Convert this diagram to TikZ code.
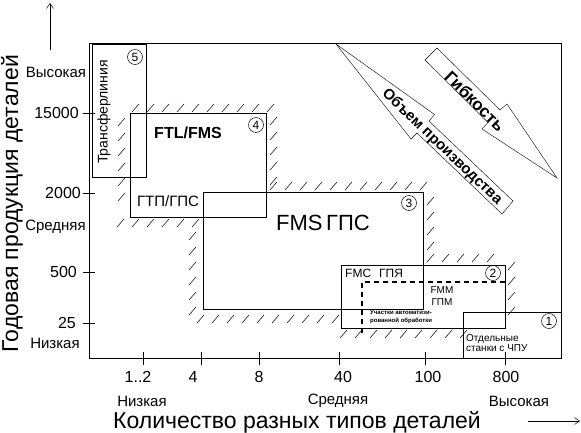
\documentclass[tikz,border=0pt]{standalone}
\usepackage{fontspec}
\setmainfont{Liberation Sans}
\usetikzlibrary{arrows.meta}
\newcommand{\fsz}[1]{\fontsize{#1bp}{#1bp}\selectfont}
\tikzset{frame/.style = {line width=0.8pt}}
\tikzset{zone/.style = {line width=0.8pt}}
\tikzset{hatch/.style = {line width=0.5pt}}
\tikzset{bigarrow/.style = {line width=0.4pt}}
\tikzset{axisarrow/.style = {line width=0.5pt, -{Straight Barb[length=5bp,width=7bp]}}}
\tikzset{dashline/.style = {line width=1.2pt, dash pattern=on 5bp off 4bp}}
\tikzset{word/.style = {inner sep=0pt, font=\fsz{15}}}
\tikzset{num/.style = {inner sep=0pt, font=\fsz{16}}}
\tikzset{title/.style = {inner sep=0pt, font=\fsz{23}}}
\tikzset{zonenum/.style = {draw, circle, line width=0.5pt, minimum size=15bp, inner sep=0pt, font=\fsz{12}}}
\newcommand{\hatchrow}[3]{\foreach \k in {1,...,#3}{\draw[hatch] ({#1+15*(\k-1)},#2) -- ++(7,-8);}}
\newcommand{\hatchcol}[3]{\foreach \k in {1,...,#3}{\draw[hatch] (#1,{#2+15*(\k-1)}) -- ++(7,-8);}}

\begin{document}
\begin{tikzpicture}[x=1bp, y=-1bp]
\useasboundingbox (0,0) rectangle (581,432);
% frame and ticks
\draw[frame] (89,43) rectangle (561,358);
\foreach \ty in {113,193,272,323} \draw[frame] (83,\ty) -- (95,\ty);
\foreach \tx in {143,201,259,339,425,505} \draw[frame] (\tx,352) -- (\tx,365);
% axis arrows
\coordinate (yfrom) at (50,50);
\coordinate (yto) at (50,3);
\coordinate (xfrom) at (528,421);
\coordinate (xto) at (580,421);
\draw[axisarrow] (yfrom) -- (yto);
\draw[axisarrow] (xfrom) -- (xto);
% axis labels
\node[word] (yhigh) at (56,72) {Высокая};
\node[num, anchor=east] (y15000) at (79,113) {15000};
\node[num, anchor=east] (y2000) at (81,193) {2000};
\node[word] (ymid) at (55.5,227) {Средняя};
\node[num, anchor=east] (y500) at (77,272) {500};
\node[num, anchor=east] (y25) at (76,323) {25};
\node[word] (ylow) at (55,343) {Низкая};
\foreach \tx/\tl/\tn in {138/1..2/a, 193/4/b, 259/8/c, 343/40/d, 428/100/e, 506/800/f}
  \node[num] (x\tn) at (\tx,377) {\tl};
\node[word] (xlow) at (142,401) {Низкая};
\node[word] (xmid) at (338,401) {Средняя};
\node[word] (xhigh) at (519,401) {Высокая};
\node[title, rotate=90, anchor=base] (ytitle) at (18,204) {Годовая продукция деталей};
\node[title, anchor=base] (xtitle) at (297,428) {Количество разных типов деталей};
% zones
\draw[zone] (92,44) rectangle (146,177);
\draw[zone] (130,113) rectangle (266,217);
\draw[zone] (203,192) rectangle (423,309);
\draw[zone] (341,265) rectangle (505,328);
\draw[zone] (463,312) rectangle (561,358);
\draw[dashline] (505,282) -- (362,282) -- (362,335);
% hatching
\hatchrow{132}{112}{10}
\hatchcol{270}{125}{5}
\hatchcol{118}{126}{6}
\hatchrow{117}{227}{6}
\hatchcol{189}{240}{6}
\hatchrow{197}{323}{10}
\hatchrow{270}{190}{11}
\hatchcol{427}{205}{4}
\hatchrow{427}{262}{5}
\hatchcol{508}{270}{4}
\hatchrow{340}{338}{9}
% zone texts
\node[inner sep=0pt, font=\fsz{14}, rotate=90] (tline) at (104,112) {Трансферлиния};
\node[inner sep=0pt, font=\fsz{16}\bfseries] (ftl) at (188,133) {FTL/FMS};
\node[word] (gtp) at (168,201) {ГТП/ГПС};
\node[inner sep=0pt, font=\fsz{22}] (fms) at (323,223) {FMS\,ГПС};
\node[inner sep=0pt, font=\fsz{12}, anchor=west] (fmc) at (345,273) {FMC\hspace{8bp}ГПЯ};
\node[inner sep=0pt, font=\fsz{10}] (fmm) at (442,290) {FMM};
\node[inner sep=0pt, font=\fsz{10}] (gpm) at (442,302) {ГПМ};
\node[inner sep=0pt, font=\fontsize{6bp}{8bp}\selectfont\bfseries, anchor=north west, align=left] (uch) at (370,310) {Участки автоматизи-\\рованной обработки};
\node[inner sep=0pt, font=\fontsize{10bp}{10bp}\selectfont, anchor=west, align=left] (otd) at (466,343) {Отдельные\\станки с ЧПУ};
\node[zonenum] (n5) at (135,57) {5};
\node[zonenum] (n4) at (256,125) {4};
\node[zonenum] (n3) at (409,203) {3};
\node[zonenum] (n2) at (493,273) {2};
\node[zonenum] (n1) at (549,321) {1};
% big arrows
\draw[bigarrow] (336,44) -- (411,139) -- (417,133) -- (502,214) -- (513,201) -- (429,121) -- (434.5,114.5) -- cycle;
\draw[bigarrow] (425,60) -- (488,122.5) -- (482,129) -- (557,178) -- (507,104) -- (500,110) -- (437,48) -- cycle;
\node[inner sep=0pt, font=\fsz{15}\bfseries, rotate=-43.6] (vol) at (442,147) {Объем производства};
\node[inner sep=0pt, font=\fsz{17}\bfseries, rotate=-44.5] (flex) at (475,101) {Гибкость};
\end{tikzpicture}
\end{document}
